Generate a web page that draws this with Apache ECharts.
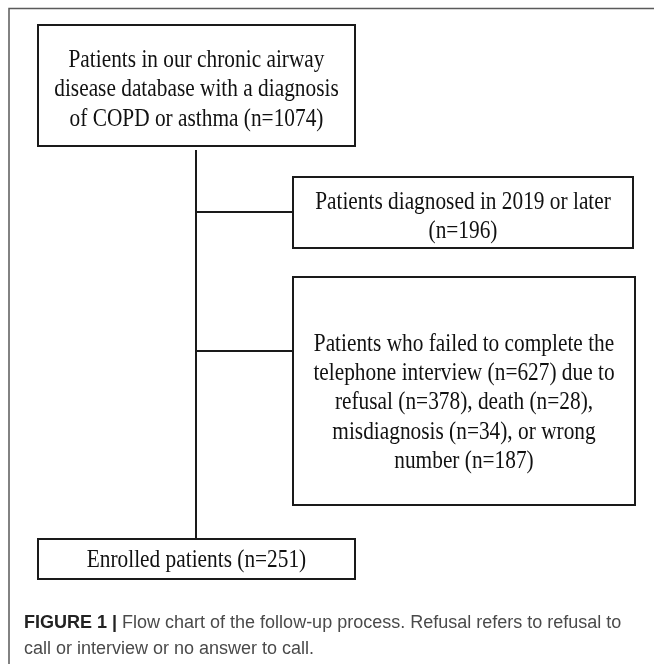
<!DOCTYPE html>
<html>
<head>
<meta charset="utf-8">
<script src="https://cdn.jsdelivr.net/npm/echarts@6/dist/echarts.min.js"></script>
<style>
  html, body { margin: 0; padding: 0; background: #fff; }
  #chart { width: 654px; height: 664px; }
</style>
</head>
<body>
<div id="chart"></div>
<script>
// flow steps and their counts
const stepNames = ['database', 'excluded2019', 'failedInterview', 'enrolled']
const stepCounts = [1074, 196, 627, 251]
// reasons for the failed telephone interview
const failReasons = ['refusal', 'death', 'misdiagnosis', 'wrong number']
const failCounts = [378, 28, 34, 187]

const stepTexts = [
  'Patients in our chronic airway\ndisease database with a diagnosis\nof COPD or asthma (n=' + stepCounts[0] + ')',
  'Patients diagnosed in 2019 or later\n(n=' + stepCounts[1] + ')',
  'Patients who failed to complete the\ntelephone interview (n=' + stepCounts[2] + ') due to\n' +
    failReasons[0] + ' (n=' + failCounts[0] + '), ' + failReasons[1] + ' (n=' + failCounts[1] + '),\n' +
    failReasons[2] + ' (n=' + failCounts[2] + '), or wrong\n' + 'number (n=' + failCounts[3] + ')',
  'Enrolled patients (n=' + stepCounts[3] + ')'
]

// layout (page units, y grows downward)
const boxes = [
  // x0, y0, x1, y1, textY
  [38, 25, 355, 146, 90],
  [293, 177, 633, 248, 217],
  [293, 277, 635, 505, 403],
  [38, 539, 355, 579, 561]
]
const connectors = [
  [[196, 150], [196, 539]],
  [[196, 212], [293, 212]],
  [[196, 351], [293, 351]]
]

const chart = echarts.init(document.getElementById('chart'))

chart.setOption({
  animation: false,
  grid: { left: 0, right: 0, top: 0, bottom: 0 },
  xAxis: { type: 'value', min: 0, max: 654, show: false },
  yAxis: { type: 'value', min: 0, max: 664, inverse: true, show: false },
  graphic: [
    {
      type: 'polyline',
      shape: { points: [[9, 664], [9, 8.5], [654, 8.5]] },
      style: { stroke: '#5a5a5a', lineWidth: 1.5, fill: null }
    },
    {
      type: 'text',
      left: 24,
      top: 610,
      style: {
        text: '{b|FIGURE 1 |} Flow chart of the follow-up process. Refusal refers to refusal to\ncall or interview or no answer to call.',
        font: '18px "Liberation Sans"',
        fill: '#4a4a4a',
        lineHeight: 26,
        rich: {
          b: { font: 'bold 18px "Liberation Sans"', fill: '#222', lineHeight: 26 }
        }
      }
    }
  ],
  series: [
    {
      type: 'custom',
      name: 'connectors',
      silent: true,
      data: connectors.map(c => [c[0][0], c[0][1], c[1][0], c[1][1]]),
      renderItem: (params, api) => {
        const p0 = api.coord([api.value(0), api.value(1)])
        const p1 = api.coord([api.value(2), api.value(3)])
        return {
          type: 'line',
          shape: { x1: p0[0], y1: p0[1], x2: p1[0], y2: p1[1] },
          style: { stroke: '#1a1a1a', lineWidth: 2 }
        }
      }
    },
    {
      type: 'custom',
      name: 'steps',
      silent: true,
      data: boxes.map((b, i) => [b[0], b[1], b[2], b[3], b[4], i]),
      renderItem: (params, api) => {
        const p0 = api.coord([api.value(0), api.value(1)])
        const p1 = api.coord([api.value(2), api.value(3)])
        const ty = api.coord([0, api.value(4)])[1]
        const idx = api.value(5)
        return {
          type: 'group',
          children: [
            {
              type: 'rect',
              shape: { x: p0[0], y: p0[1], width: p1[0] - p0[0], height: p1[1] - p0[1] },
              style: { fill: '#fff', stroke: '#1a1a1a', lineWidth: 2 }
            },
            {
              type: 'text',
              x: (p0[0] + p1[0]) / 2,
              y: ty,
              scaleX: 0.97,
              scaleY: 1.12,
              style: {
                x: 0,
                y: 0,
                text: stepTexts[idx],
                align: 'center',
                verticalAlign: 'middle',
                font: '22px "Liberation Serif"',
                lineHeight: 26,
                fill: '#111'
              }
            }
          ]
        }
      }
    }
  ]
})
</script>
</body>
</html>
